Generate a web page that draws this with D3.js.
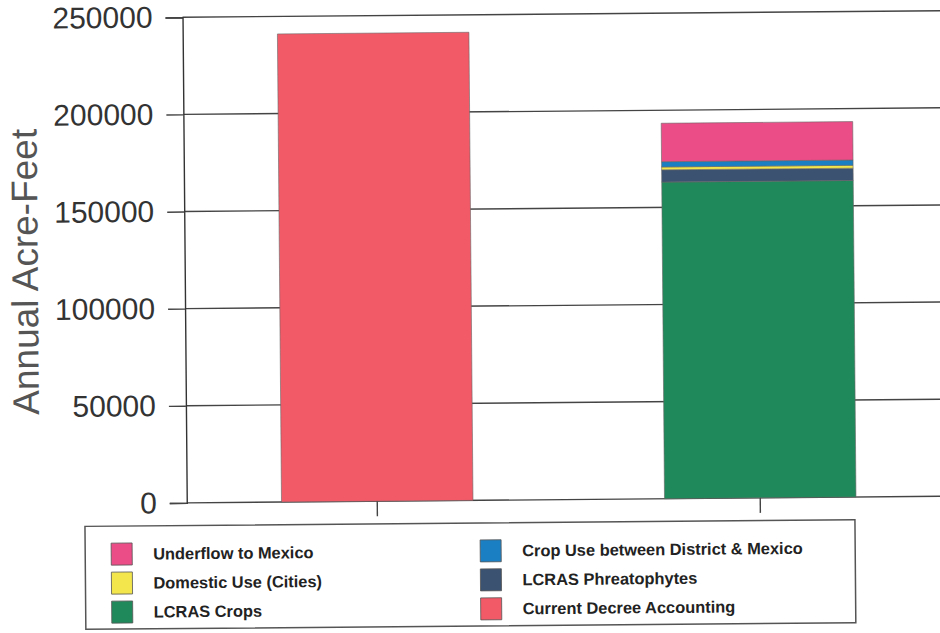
<!DOCTYPE html>
<html>
<head>
<meta charset="utf-8">
<script src="https://cdn.jsdelivr.net/npm/d3@7"></script>
<style>
  html, body { margin: 0; padding: 0; background: #fff; }
  svg { display: block; }
</style>
</head>
<body>
<svg id="chart" width="940" height="633"></svg>
<script>
// ---- data ----
const categories = ["Current Decree", "Proposed Accounting"];
const seriesKeys = ["LCRAS Crops", "LCRAS Phreatophytes", "Domestic Use (Cities)",
                    "Crop Use between District & Mexico", "Underflow to Mexico",
                    "Current Decree Accounting"];
const crops          = [0, 163000];
const phreatophytes  = [0, 6300];
const domestic       = [0, 1500];
const cropUse        = [0, 2700];
const underflow      = [0, 19800];
const currentDecree  = [241000, 0];
const yTicks = [0, 50000, 100000, 150000, 200000, 250000];
const legendOrder = ["Underflow to Mexico", "Domestic Use (Cities)", "LCRAS Crops",
                     "Crop Use between District & Mexico", "LCRAS Phreatophytes",
                     "Current Decree Accounting"];

const colors = {
  "LCRAS Crops": "#20895b",
  "LCRAS Phreatophytes": "#3b5270",
  "Domestic Use (Cities)": "#f3e64c",
  "Crop Use between District & Mexico": "#1b80c3",
  "Underflow to Mexico": "#eb4d86",
  "Current Decree Accounting": "#f35a68"
};

const table = categories.map((c, i) => ({
  category: c,
  "LCRAS Crops": crops[i],
  "LCRAS Phreatophytes": phreatophytes[i],
  "Domestic Use (Cities)": domestic[i],
  "Crop Use between District & Mexico": cropUse[i],
  "Underflow to Mexico": underflow[i],
  "Current Decree Accounting": currentDecree[i]
}));

const svg = d3.select("#chart");
const g = svg.append("g").attr("transform", "rotate(-0.5, 470, 300)");

const x = d3.scaleBand().domain(categories).range([184, 950])
  .paddingInner(0.5).paddingOuter(0.25);
const y = d3.scaleLinear().domain([0, 250000]).range([500.4, 14.8]);

// gridlines
g.append("g").selectAll("line").data(yTicks).join("line")
  .attr("x1", 185).attr("x2", 970)
  .attr("y1", d => y(d)).attr("y2", d => y(d))
  .attr("stroke", "#444").attr("stroke-width", 1.4);

// bars
const stacked = d3.stack().keys(seriesKeys)(table);
g.append("g").selectAll("g").data(stacked).join("g")
  .attr("fill", d => colors[d.key])
  .selectAll("rect").data(d => d.filter(p => p[1] - p[0] > 0)).join("rect")
  .attr("x", d => x(d.data.category))
  .attr("width", x.bandwidth())
  .attr("y", d => y(d[1]))
  .attr("height", d => y(d[0]) - y(d[1]))
  .attr("stroke", "#666").attr("stroke-width", 0.6);

// y axis
const yAxis = g.append("g").attr("transform", "translate(185,0)")
  .call(d3.axisLeft(y).tickValues(yTicks).tickFormat(d3.format("d"))
        .tickSize(17).tickPadding(13));
yAxis.select(".domain").attr("stroke", "#333").attr("stroke-width", 1.4);
yAxis.selectAll(".tick line").attr("stroke", "#444").attr("stroke-width", 1.4);
yAxis.selectAll(".tick text")
  .attr("font-family", "Liberation Sans, Arial, sans-serif")
  .attr("font-size", 30).attr("fill", "#333");

// x axis
const xAxis = g.append("g").attr("transform", `translate(0,${y(0)})`)
  .call(d3.axisBottom(x).tickSize(15).tickFormat(() => ""));
xAxis.select(".domain").remove();
xAxis.selectAll(".tick line").attr("stroke", "#444").attr("stroke-width", 1.4);

// y title
g.append("text")
  .attr("transform", "translate(38,268) rotate(-90)")
  .attr("text-anchor", "middle")
  .attr("font-family", "Liberation Sans, Arial, sans-serif")
  .attr("font-size", 37).attr("fill", "#555")
  .text("Annual Acre-Feet");

// legend
const leg = g.append("g");
leg.append("rect").attr("x", 83).attr("y", 523).attr("width", 770).attr("height", 103)
  .attr("fill", "none").attr("stroke", "#555").attr("stroke-width", 1.5);
const items = leg.selectAll("g.item").data(legendOrder).join("g")
  .attr("class", "item")
  .attr("transform", (d, i) => {
    const col = Math.floor(i / 3), row = i % 3;
    return `translate(${col === 0 ? 109 : 478},${551 + row * 29})`;
  });
items.append("rect").attr("x", 0).attr("y", -11).attr("width", 21).attr("height", 22)
  .attr("fill", d => colors[d]).attr("stroke", "#555").attr("stroke-width", 0.8);
items.append("text").attr("x", 42).attr("y", 0).attr("dy", "0.35em")
  .attr("font-family", "Liberation Sans, Arial, sans-serif")
  .attr("font-weight", "bold").attr("font-size", 16.4).attr("fill", "#222")
  .text(d => d);
</script>
</body>
</html>
